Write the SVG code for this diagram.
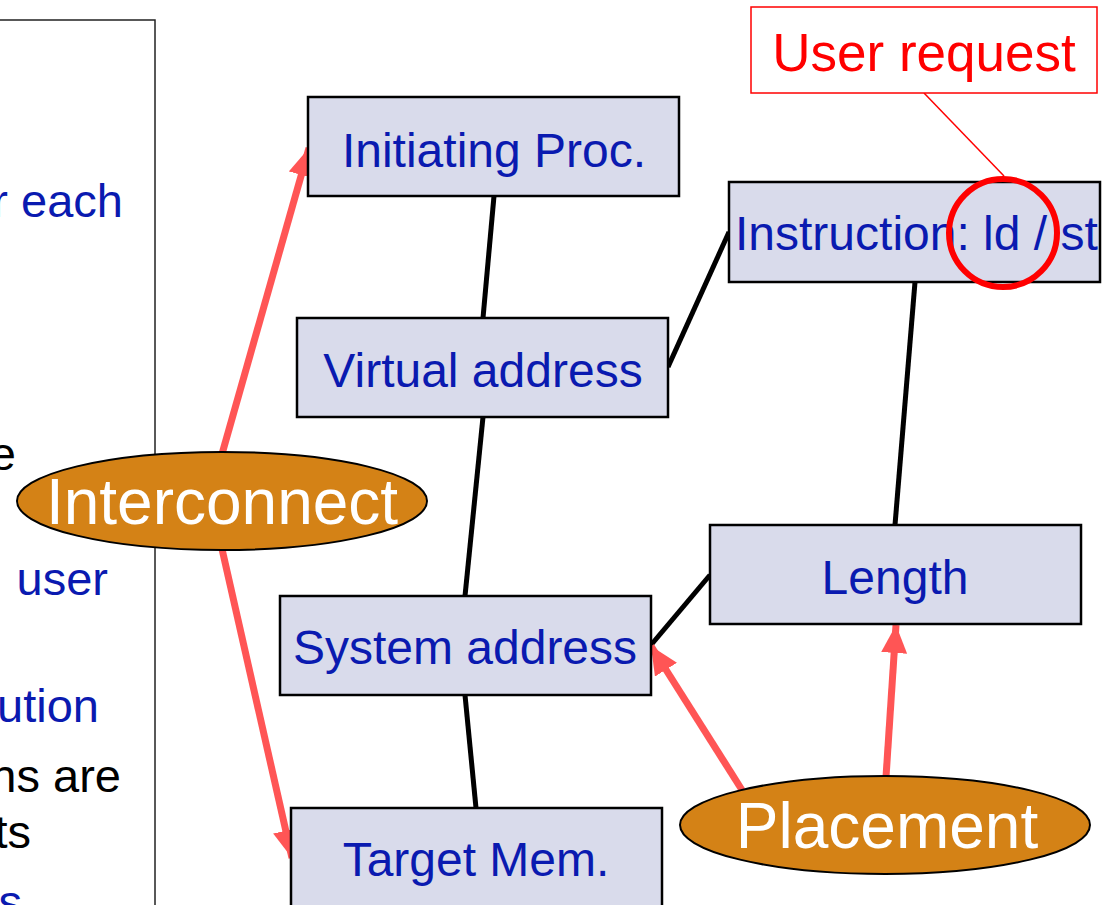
<svg xmlns="http://www.w3.org/2000/svg" width="1106" height="905" viewBox="0 0 1106 905">
  <style>
    .node rect { fill: #d9dbeb; stroke: #000; stroke-width: 2.5; }
    .node text { font-family: "Liberation Sans", Arial, sans-serif; font-size: 48px; fill: #0a1ab0; text-anchor: middle; }
    .oval ellipse { fill: #d48216; stroke: #000; stroke-width: 2; }
    .oval text { font-family: "Liberation Sans", Arial, sans-serif; font-size: 64px; fill: #fff; text-anchor: middle; }
    .side { font-family: "Liberation Sans", Arial, sans-serif; font-size: 47px; text-anchor: end; }
    .blue { fill: #0a1ab0; }
    .black { fill: #000; }
    .link { stroke: #000; stroke-width: 5; fill: none; }
    .arrow { stroke: #ff5555; stroke-width: 7; fill: none; marker-end: url(#head); }
  </style>
  <defs>
    <marker id="head" markerUnits="userSpaceOnUse" markerWidth="30" markerHeight="26" refX="28" refY="13" orient="auto">
      <path d="M0,0 L28,13 L0,26 Z" fill="#ff5555"/>
    </marker>
  </defs>

  <rect width="1106" height="905" fill="#fff"/>

  <!-- side panel with bullet text running past its left edge -->
  <g id="side-panel">
    <rect x="-4" y="20" width="159" height="900" fill="#fff" stroke="#222" stroke-width="1.5"/>
    <text class="side blue" x="123" y="217">r each</text>
    <text class="side black" x="16" y="470">e</text>
    <text class="side blue" x="108" y="595">user</text>
    <text class="side blue" x="99" y="722">ution</text>
    <text class="side black" x="121" y="792">ns are</text>
    <text class="side black" x="31" y="848">ts</text>
    <text class="side blue" x="22" y="918">s</text>
  </g>

  <!-- connectors -->
  <g id="connectors">
    <line class="link" x1="494" y1="196" x2="483" y2="318"/>
    <line class="link" x1="668" y1="367" x2="729" y2="232"/>
    <line class="link" x1="483" y1="417" x2="465" y2="596"/>
    <line class="link" x1="915" y1="282" x2="895" y2="525"/>
    <line class="link" x1="710" y1="575" x2="651" y2="645"/>
    <line class="link" x1="465" y1="695" x2="476" y2="808"/>
    <line class="arrow" x1="222" y1="454" x2="309" y2="148"/>
    <line class="arrow" x1="222" y1="549" x2="292" y2="858"/>
    <line class="arrow" x1="742" y1="790" x2="651" y2="646"/>
    <line class="arrow" x1="886" y1="777" x2="896" y2="625"/>
    <line x1="924" y1="93" x2="1004" y2="176" stroke="#ff0000" stroke-width="1.5"/>
  </g>

  <g id="initiating-proc" class="node">
    <rect x="308" y="97" width="371" height="99"/>
    <text x="494" y="167">Initiating Proc.</text>
  </g>
  <g id="virtual-address" class="node">
    <rect x="297" y="318" width="371" height="99"/>
    <text x="483" y="387">Virtual address</text>
  </g>
  <g id="instruction" class="node">
    <rect x="729" y="182" width="371" height="100"/>
    <text x="735" y="250" style="text-anchor:start">Instruction: ld / st</text>
  </g>
  <g id="length" class="node">
    <rect x="710" y="525" width="371" height="99"/>
    <text x="895" y="594">Length</text>
  </g>
  <g id="system-address" class="node">
    <rect x="280" y="596" width="371" height="99"/>
    <text x="465" y="664">System address</text>
  </g>
  <g id="target-mem" class="node">
    <rect x="291" y="808" width="371" height="110"/>
    <text x="476" y="876">Target Mem.</text>
  </g>

  <g id="interconnect" class="oval">
    <ellipse cx="222" cy="501" rx="205" ry="49"/>
    <text x="222" y="524">Interconnect</text>
  </g>
  <g id="placement" class="oval">
    <ellipse cx="885" cy="825" rx="205" ry="49"/>
    <text x="887" y="848">Placement</text>
  </g>

  <g id="user-request">
    <rect x="751" y="7" width="346" height="86" fill="#fff" stroke="#ff0000" stroke-width="1.5"/>
    <text x="924" y="71" font-family="'Liberation Sans', Arial, sans-serif" font-size="53" fill="#ff0000" text-anchor="middle">User request</text>
  </g>
  <circle id="ld-st-mark" cx="1003" cy="233" r="54" fill="none" stroke="#ff0000" stroke-width="6"/>
</svg>
